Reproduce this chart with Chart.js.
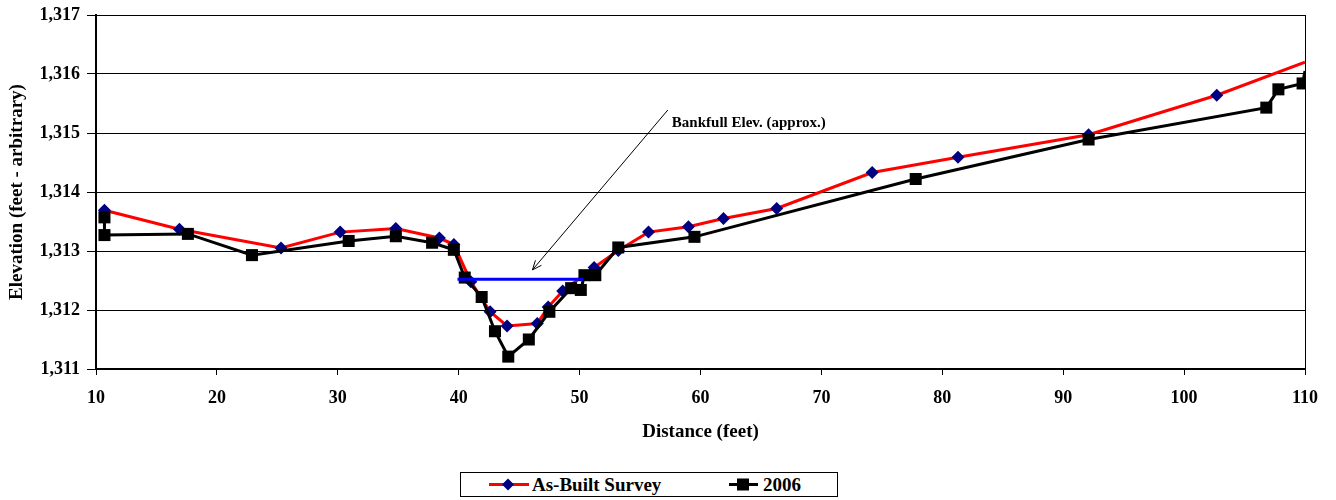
<!DOCTYPE html>
<html>
<head>
<meta charset="utf-8">
<script src="https://cdn.jsdelivr.net/npm/chart.js@4/dist/chart.umd.min.js"></script>
<style>
  html, body { margin: 0; padding: 0; background: #fff; }
  #wrap { position: relative; width: 1336px; height: 500px; }
  #c { position: absolute; left: 0; top: 0; }
  #legend { position: absolute; left: 460px; top: 472px; width: 376px; height: 23px; border: 1px solid #000; background: #fff;
            font: bold 19px "Liberation Serif", "Times New Roman", serif; color: #000; }
  #legend .it { position: absolute; top: 0; height: 23px; line-height: 24px; white-space: nowrap; }
  #legend svg { position: absolute; top: 0; }
</style>
</head>
<body>
<div id="wrap">
  <canvas id="c" width="1336" height="500"></canvas>
  <div id="legend">
    <svg style="left:28px" width="42" height="23"><line x1="0" y1="11.5" x2="40" y2="11.5" stroke="#ff0000" stroke-width="3"/><polygon points="19,5.5 25,11.5 19,17.5 13,11.5" fill="#000080"/></svg>
    <span class="it" style="left:71px">As-Built Survey</span>
    <svg style="left:268px" width="30" height="23"><line x1="0" y1="11.5" x2="29" y2="11.5" stroke="#000" stroke-width="3"/><rect x="8" y="5.5" width="12" height="12" fill="#000"/></svg>
    <span class="it" style="left:302px">2006</span>
  </div>
</div>
<script>
// ---- data ----
const asBuiltX = [10.7, 16.9, 25.3, 30.2, 34.8, 38.4, 39.6, 41.0, 42.6, 44.0, 46.5, 47.4, 48.6, 51.2, 53.2, 55.7, 59.0, 61.9, 66.3, 74.2, 81.3, 92.1, 102.7, 110];
const asBuiltY = [1313.69, 1313.37, 1313.05, 1313.32, 1313.38, 1313.22, 1313.11, 1312.48, 1311.97, 1311.73, 1311.77, 1312.05, 1312.32, 1312.72, 1313.01, 1313.32, 1313.41, 1313.55, 1313.72, 1314.33, 1314.59, 1314.97, 1315.64, 1316.2];
const year2006X = [10.7, 10.7, 17.6, 22.9, 30.9, 34.8, 37.8, 39.6, 40.5, 41.9, 43.0, 44.1, 45.8, 47.5, 49.3, 50.1, 50.4, 51.3, 53.2, 59.5, 77.8, 92.1, 106.8, 107.8, 109.8, 110];
const year2006Y = [1313.57, 1313.27, 1313.29, 1312.93, 1313.17, 1313.25, 1313.14, 1313.02, 1312.55, 1312.22, 1311.64, 1311.21, 1311.50, 1311.97, 1312.37, 1312.34, 1312.59, 1312.59, 1313.06, 1313.24, 1314.22, 1314.89, 1315.43, 1315.74, 1315.84, 1316.05];
const bankfullX = [39.9, 50.3];
const bankfullY = [1312.52, 1312.52];
const arrowFrom = [57.3, 1315.39];
const arrowTo = [46.1, 1312.68];
const noteText = 'Bankfull Elev. (approx.)';
const xTicks = [10, 20, 30, 40, 50, 60, 70, 80, 90, 100, 110];
const yTicks = [1311, 1312, 1313, 1314, 1315, 1316, 1317];

const pts = (xs, ys) => xs.map((x, i) => ({ x: x, y: ys[i] }));
const serif = '"Liberation Serif", "Times New Roman", serif';

const annotPlugin = {
  id: 'annot',
  afterDatasetsDraw(chart) {
    const { ctx, chartArea: a, scales: { x, y } } = chart;
    ctx.save();
    // right border of plot box
    ctx.strokeStyle = '#000';
    ctx.lineWidth = 1;
    ctx.beginPath();
    ctx.moveTo(a.right + 0.5, a.top);
    ctx.lineTo(a.right + 0.5, a.bottom);
    ctx.stroke();
    // arrow
    const x1 = x.getPixelForValue(arrowFrom[0]), y1 = y.getPixelForValue(arrowFrom[1]);
    const x2 = x.getPixelForValue(arrowTo[0]), y2 = y.getPixelForValue(arrowTo[1]);
    ctx.beginPath();
    ctx.moveTo(x1, y1);
    ctx.lineTo(x2, y2);
    const ang = Math.atan2(y2 - y1, x2 - x1);
    const L = 10, w = 0.4;
    ctx.moveTo(x2 - L * Math.cos(ang - w), y2 - L * Math.sin(ang - w));
    ctx.lineTo(x2, y2);
    ctx.lineTo(x2 - L * Math.cos(ang + w), y2 - L * Math.sin(ang + w));
    ctx.stroke();
    // note text
    ctx.fillStyle = '#000';
    ctx.font = 'bold 15px ' + serif;
    ctx.textAlign = 'left';
    ctx.textBaseline = 'middle';
    ctx.fillText(noteText, x1 + 4, y1 + 13);
    ctx.restore();
  }
};

new Chart(document.getElementById('c'), {
  type: 'scatter',
  data: {
    datasets: [
      {
        label: 'Bankfull',
        data: pts(bankfullX, bankfullY),
        showLine: true,
        borderColor: '#0000ff',
        borderWidth: 3,
        pointRadius: 0,
        order: 0
      },
      {
        label: '2006',
        data: pts(year2006X, year2006Y),
        showLine: true,
        borderColor: '#000',
        borderWidth: 3,
        pointStyle: 'rect',
        pointRadius: ctx => (ctx.dataIndex === year2006X.length - 1 ? 0 : 8.5),
        pointBackgroundColor: '#000',
        pointBorderColor: '#000',
        pointBorderWidth: 0,
        order: 1
      },
      {
        label: 'As-Built Survey',
        data: pts(asBuiltX, asBuiltY),
        showLine: true,
        borderColor: '#ff0000',
        borderWidth: 3,
        pointStyle: 'rectRot',
        pointRadius: ctx => (ctx.dataIndex === asBuiltX.length - 1 ? 0 : 6.5),
        pointBackgroundColor: '#000080',
        pointBorderColor: '#000080',
        pointBorderWidth: 0,
        order: 2
      }
    ]
  },
  options: {
    responsive: false,
    devicePixelRatio: 1,
    animation: false,
    layout: { padding: { top: 15, right: 31, bottom: 51, left: 0 } },
    plugins: { legend: { display: false }, tooltip: { enabled: false } },
    scales: {
      x: {
        type: 'linear',
        min: 10, max: 110,
        afterBuildTicks: s => { s.ticks = xTicks.map(v => ({ value: v })); },
        afterFit: s => { s.height = 80; s.paddingLeft = 0; s.paddingRight = 0; },
        grid: { drawOnChartArea: false, drawTicks: true, tickLength: 6, tickColor: '#000', tickWidth: 1 },
        border: { color: '#000', width: 2 },
        ticks: { color: '#000', padding: 13, font: { family: serif, size: 18, weight: 'bold' }, maxRotation: 0 },
        title: { display: true, text: 'Distance (feet)', color: '#000', padding: { top: 0, bottom: 6 }, font: { family: serif, size: 19, weight: 'bold' } }
      },
      y: {
        min: 1311, max: 1317,
        afterBuildTicks: s => { s.ticks = yTicks.map(v => ({ value: v })); },
        afterFit: s => { s.width = 96; s.paddingTop = 0; s.paddingBottom = 0; },
        grid: { color: '#000', lineWidth: 1, drawTicks: true, tickLength: 9, tickColor: '#000' },
        border: { color: '#000', width: 2 },
        ticks: { color: '#000', padding: 7, font: { family: serif, size: 18, weight: 'bold' },
                 callback: v => v.toLocaleString('en-US') },
        title: { display: true, text: 'Elevation (feet - arbitrary)', color: '#000', padding: { top: 6, bottom: 0 }, font: { family: serif, size: 19, weight: 'bold' } }
      }
    }
  },
  plugins: [annotPlugin]
});
</script>
</body>
</html>
